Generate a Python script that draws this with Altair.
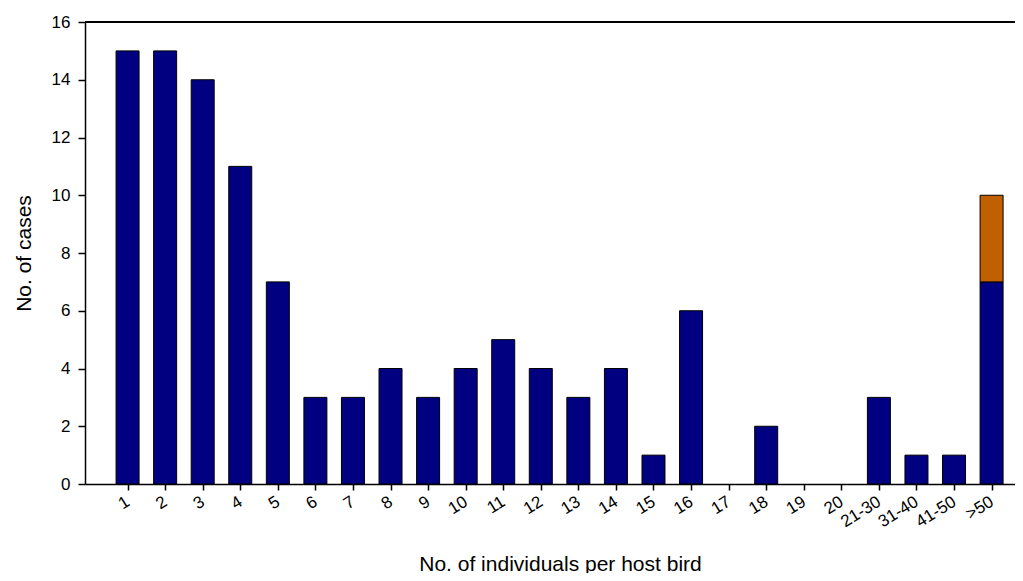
import json
import altair as alt
import pandas as pd

categories = ["1", "2", "3", "4", "5", "6", "7", "8", "9", "10", "11", "12",
              "13", "14", "15", "16", "17", "18", "19", "20", "21-30", "31-40",
              "41-50", ">50"]
series_main = [15, 15, 14, 11, 7, 3, 3, 4, 3, 4, 5, 4, 3, 4, 1, 6, 0, 2, 0, 0, 3, 1, 1, 7]
series_extra = [0] * 23 + [3]
y_ticks = [0, 2, 4, 6, 8, 10, 12, 14, 16]

rows = []
for i, c in enumerate(categories):
    rows.append({"idx": i + 1, "cat": c, "series": "main", "order": 0, "value": series_main[i]})
    rows.append({"idx": i + 1, "cat": c, "series": "extra", "order": 1, "value": series_extra[i]})
df = pd.DataFrame(rows)

label_expr = json.dumps(categories) + "[datum.value - 1]"

FONT = "Liberation Sans"

bars = alt.Chart(df).transform_filter("datum.value > 0").mark_bar(
    size=23, stroke="black", strokeWidth=1
).encode(
    x=alt.X(
        "idx:Q",
        scale=alt.Scale(domain=[0, 24.49], nice=False, zero=False),
        axis=alt.Axis(
            values=list(range(1, len(categories) + 1)),
            labelExpr=label_expr,
            labelAngle=328,
            labelAlign="right",
            labelBaseline="middle",
            labelPadding=10,
            labelFontSize=17,
            labelOverlap=False,
            labelBound=False,
            tickSize=6,
            grid=False,
            title="No. of individuals per host bird",
            titleFontSize=21,
            titleFontWeight="normal",
            titleX=475,
            titleY=86,
            titleBaseline="alphabetic",
        ),
    ),
    y=alt.Y(
        "value:Q",
        stack="zero",
        scale=alt.Scale(domain=[0, 16], nice=False),
        axis=alt.Axis(
            values=y_ticks,
            labelFontSize=17,
            labelPadding=8,
            tickSize=7,
            grid=False,
            title="No. of cases",
            titleFontSize=21,
            titleFontWeight="normal",
            titlePadding=17,
        ),
    ),
    color=alt.Color(
        "series:N",
        scale=alt.Scale(domain=["main", "extra"], range=["#000080", "#C06000"]),
        legend=None,
    ),
    order=alt.Order("order:Q"),
)

top_line = alt.Chart(df).mark_rule(color="black", strokeWidth=1.5).encode(
    y=alt.Y(datum=16)
)

chart = alt.layer(bars, top_line).properties(
    width=930,
    height=462,
    padding={"left": 77, "top": 14, "right": 0, "bottom": 89},
    autosize=alt.AutoSizeParams(type="none"),
).configure(font=FONT).configure_view(strokeWidth=0).configure_axis(
    domainColor="black",
    domainWidth=1.5,
    tickColor="black",
    tickWidth=1.5,
    labelColor="black",
    titleColor="black",
    labelFont=FONT,
    titleFont=FONT,
)

chart.save("out.html", embed_options={"renderer": "svg", "actions": False})
